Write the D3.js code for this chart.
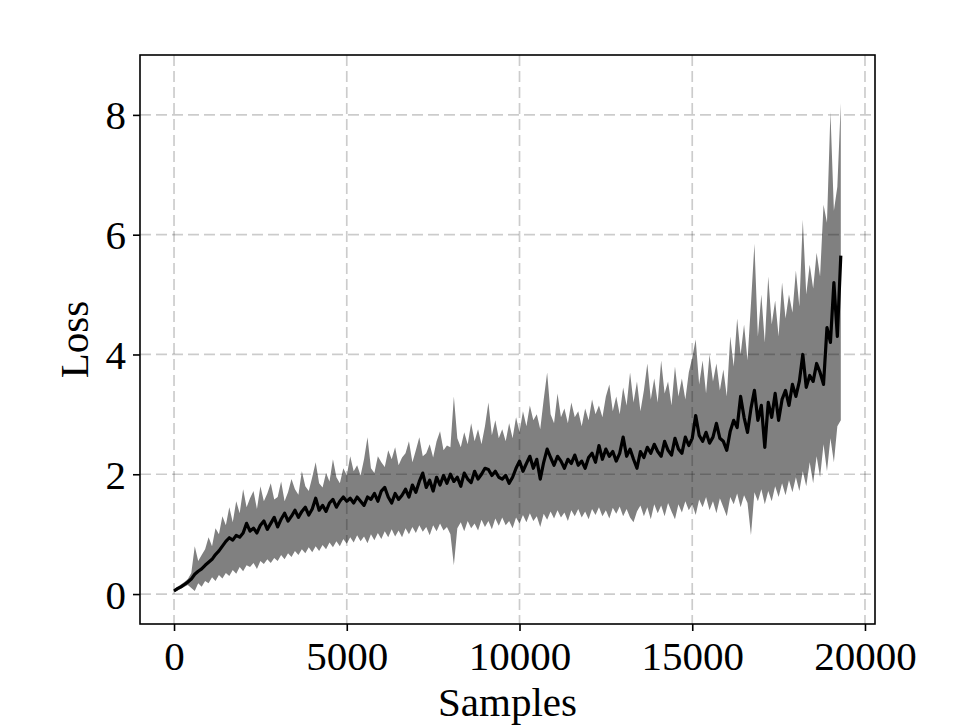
<!DOCTYPE html>
<html>
<head>
<meta charset="utf-8">
<script src="https://cdn.jsdelivr.net/npm/d3@7"></script>
<style>
  html, body { margin: 0; padding: 0; background: #fff; }
  svg { display: block; }
  text { font-family: "Liberation Serif", "DejaVu Serif", serif; }
</style>
</head>
<body>
<svg id="chart" width="968" height="726"></svg>
<script>
const samples = d3.range(0, 19400, 100);

const lossMean = [
0.05,0.09,0.12,0.16,0.20,0.25,0.33,0.38,0.42,0.48,
0.53,0.58,0.66,0.72,0.80,0.88,0.94,0.90,0.98,0.95,
1.02,1.18,1.05,1.10,1.02,1.15,1.22,1.08,1.18,1.28,
1.12,1.25,1.35,1.22,1.30,1.40,1.28,1.38,1.45,1.32,
1.42,1.60,1.40,1.48,1.38,1.52,1.58,1.45,1.55,1.62,
1.55,1.60,1.52,1.62,1.55,1.48,1.62,1.58,1.68,1.55,
1.72,1.78,1.62,1.52,1.68,1.58,1.65,1.75,1.62,1.82,
1.70,1.88,2.02,1.78,1.90,1.72,1.95,1.82,1.98,1.85,
2.00,1.88,1.95,1.80,2.02,1.92,1.86,2.05,1.92,2.00,
2.10,2.08,1.98,2.05,1.95,1.92,1.98,1.85,1.95,2.10,
2.22,2.05,2.18,2.30,2.10,2.25,1.92,2.20,2.42,2.28,
2.15,2.30,2.22,2.10,2.25,2.18,2.32,2.15,2.22,2.10,
2.28,2.35,2.20,2.48,2.25,2.42,2.30,2.38,2.22,2.35,
2.62,2.30,2.42,2.25,2.10,2.38,2.28,2.45,2.35,2.50,
2.38,2.30,2.55,2.40,2.32,2.60,2.42,2.35,2.62,2.48,
2.60,2.98,2.65,2.55,2.70,2.52,2.62,2.85,2.60,2.55,
2.40,2.72,2.90,2.78,3.30,2.95,2.70,3.10,3.40,2.90,
3.15,2.45,3.20,2.95,3.35,2.90,3.25,3.40,3.15,3.50,
3.30,3.55,4.00,3.45,3.65,3.55,3.85,3.70,3.50,4.45,
4.20,5.20,4.30,5.65
];

const lossUpper = [
0.08,0.12,0.16,0.20,0.25,0.35,0.80,0.55,0.65,0.75,
0.95,0.80,1.10,1.00,1.30,1.15,1.45,1.20,1.55,1.35,
1.75,1.45,1.60,1.72,1.42,1.80,1.55,1.68,1.85,1.58,
1.62,1.88,1.55,1.70,1.92,1.75,1.66,2.05,1.80,1.72,
1.95,2.20,1.85,1.78,2.02,1.88,2.25,1.95,1.85,2.10,
1.98,2.30,2.05,2.15,1.98,2.25,2.62,2.10,2.02,2.30,
2.20,2.12,2.40,2.25,2.45,2.15,2.28,2.35,2.55,2.20,
2.40,2.62,2.30,2.35,2.50,2.28,2.55,2.72,2.40,2.48,
2.45,3.30,2.60,2.45,2.70,2.50,2.85,2.55,2.75,2.50,
2.80,3.20,2.65,2.90,2.60,2.75,2.55,2.85,2.60,2.95,
2.70,3.05,2.80,3.15,2.90,3.00,2.75,3.25,3.70,3.00,
2.85,3.35,2.95,3.10,2.85,3.20,2.95,3.05,2.80,3.10,
2.90,3.25,3.00,3.15,2.95,3.30,3.50,3.05,3.30,3.00,
3.45,3.15,3.70,3.20,3.55,3.05,3.40,3.85,3.25,3.60,
3.20,3.90,3.35,3.55,3.15,3.80,3.30,3.60,3.25,3.70,
3.95,4.25,3.50,3.90,3.35,4.00,3.55,3.85,3.40,3.75,
3.30,4.30,3.80,4.60,4.00,4.50,3.90,4.85,5.85,4.30,
5.00,4.20,5.30,4.50,4.90,4.30,5.20,4.60,5.00,4.70,
5.40,4.80,6.25,5.00,5.50,5.10,5.70,5.30,6.50,6.20,
8.05,6.40,6.80,8.20
];

const lossLower = [
0.03,0.06,0.09,0.12,0.15,0.10,0.05,0.18,0.12,0.22,
0.18,0.28,0.22,0.32,0.26,0.35,0.30,0.40,0.34,0.45,
0.38,0.48,0.45,0.52,0.42,0.55,0.50,0.58,0.52,0.60,
0.55,0.65,0.58,0.68,0.62,0.72,0.65,0.75,0.68,0.78,
0.70,0.80,0.72,0.82,0.75,0.86,0.78,0.88,0.80,0.92,
0.84,0.95,0.86,0.98,0.88,0.96,0.85,1.00,0.90,1.02,
0.92,1.05,0.95,1.08,0.96,1.06,0.95,1.10,1.00,1.12,
1.02,1.15,1.04,1.12,0.98,1.15,1.05,1.18,1.06,1.12,
1.00,0.48,1.10,1.20,1.05,1.22,1.10,1.18,1.06,1.24,
1.12,1.22,1.08,1.26,1.14,1.28,1.15,1.22,1.10,1.28,
1.18,1.32,1.20,1.35,1.22,1.30,1.12,1.34,1.24,1.38,
1.26,1.40,1.28,1.36,1.22,1.40,1.30,1.42,1.28,1.38,
1.25,1.42,1.32,1.45,1.30,1.40,1.26,1.44,1.34,1.46,
1.30,1.42,1.28,1.20,1.38,1.48,1.30,1.45,1.25,1.50,
1.35,1.48,1.30,1.52,1.38,1.25,1.50,1.36,1.55,1.40,
1.50,1.32,1.58,1.45,1.62,1.40,1.55,1.35,1.60,1.45,
1.30,1.62,1.50,1.68,1.45,1.65,1.52,0.98,1.70,1.55,
1.75,1.50,1.72,1.55,1.80,1.62,1.85,1.65,1.90,1.70,
1.95,1.72,2.05,1.80,2.20,1.85,2.30,1.95,2.50,2.05,
2.60,2.20,2.80,2.90
];

const xTicks = [0, 5000, 10000, 15000, 20000];
const yTicks = [0, 2, 4, 6, 8];
const xLabel = "Samples";
const yLabel = "Loss";

const svg = d3.select("#chart");
const L = 140, R = 875, T = 55, B = 624;

const x = d3.scaleLinear().domain([-985, 20290]).range([L, R]);
const y = d3.scaleLinear().domain([-0.5, 9.0]).range([B, T]);

const data = samples.map((s, i) => ({ s, m: lossMean[i], u: lossUpper[i], l: lossLower[i] }));

const defs = svg.append("defs");
defs.append("clipPath").attr("id", "clip")
  .append("rect").attr("x", L).attr("y", T).attr("width", R - L).attr("height", B - T);

const plot = svg.append("g").attr("clip-path", "url(#clip)");

// band
plot.append("path")
  .datum(data)
  .attr("fill", "#808080")
  .attr("d", d3.area().x(d => x(d.s)).y0(d => y(d.l)).y1(d => y(d.u)));

// grid on top (translucent)
const grid = plot.append("g")
  .attr("stroke", "#000").attr("stroke-opacity", 0.2)
  .attr("stroke-width", 1.7).attr("stroke-dasharray", "11,5");
grid.selectAll(".gx").data(xTicks).enter().append("line")
  .attr("x1", d => x(d)).attr("x2", d => x(d)).attr("y1", T).attr("y2", B);
grid.selectAll(".gy").data(yTicks).enter().append("line")
  .attr("y1", d => y(d)).attr("y2", d => y(d)).attr("x1", L).attr("x2", R);

// mean line
plot.append("path")
  .datum(data)
  .attr("fill", "none")
  .attr("stroke", "#000")
  .attr("stroke-width", 3.2)
  .attr("stroke-linejoin", "round")
  .attr("d", d3.line().x(d => x(d.s)).y(d => y(d.m)));

// axes
const xAxis = d3.axisBottom(x).tickValues(xTicks).tickSize(7).tickPadding(10).tickFormat(d3.format("d"));
const yAxis = d3.axisLeft(y).tickValues(yTicks).tickSize(7).tickPadding(7).tickFormat(d3.format("d"));

const gx = svg.append("g").attr("transform", `translate(0,${B})`).call(xAxis);
const gy = svg.append("g").attr("transform", `translate(${L},0)`).call(yAxis);
[gx, gy].forEach(g => {
  g.select(".domain").remove();
  g.selectAll(".tick line").attr("stroke", "#000").attr("stroke-width", 1.6);
  g.selectAll(".tick text").attr("fill", "#000").attr("font-size", 41)
    .style("font-family", "'Liberation Serif', 'DejaVu Serif', serif");
});
gx.selectAll(".tick text").attr("dy", "0.71em");
gy.selectAll(".tick text").attr("dy", "0.34em");

// frame
svg.append("rect").attr("x", L).attr("y", T).attr("width", R - L).attr("height", B - T)
  .attr("fill", "none").attr("stroke", "#000").attr("stroke-width", 1.6);

svg.append("text").attr("x", (L + R) / 2).attr("y", 716)
  .attr("text-anchor", "middle").attr("font-size", 41).attr("fill", "#000").text(xLabel);
svg.append("text")
  .attr("transform", `translate(88,${(T + B) / 2}) rotate(-90)`)
  .attr("text-anchor", "middle").attr("font-size", 41).attr("fill", "#000").text(yLabel);
</script>
</body>
</html>
